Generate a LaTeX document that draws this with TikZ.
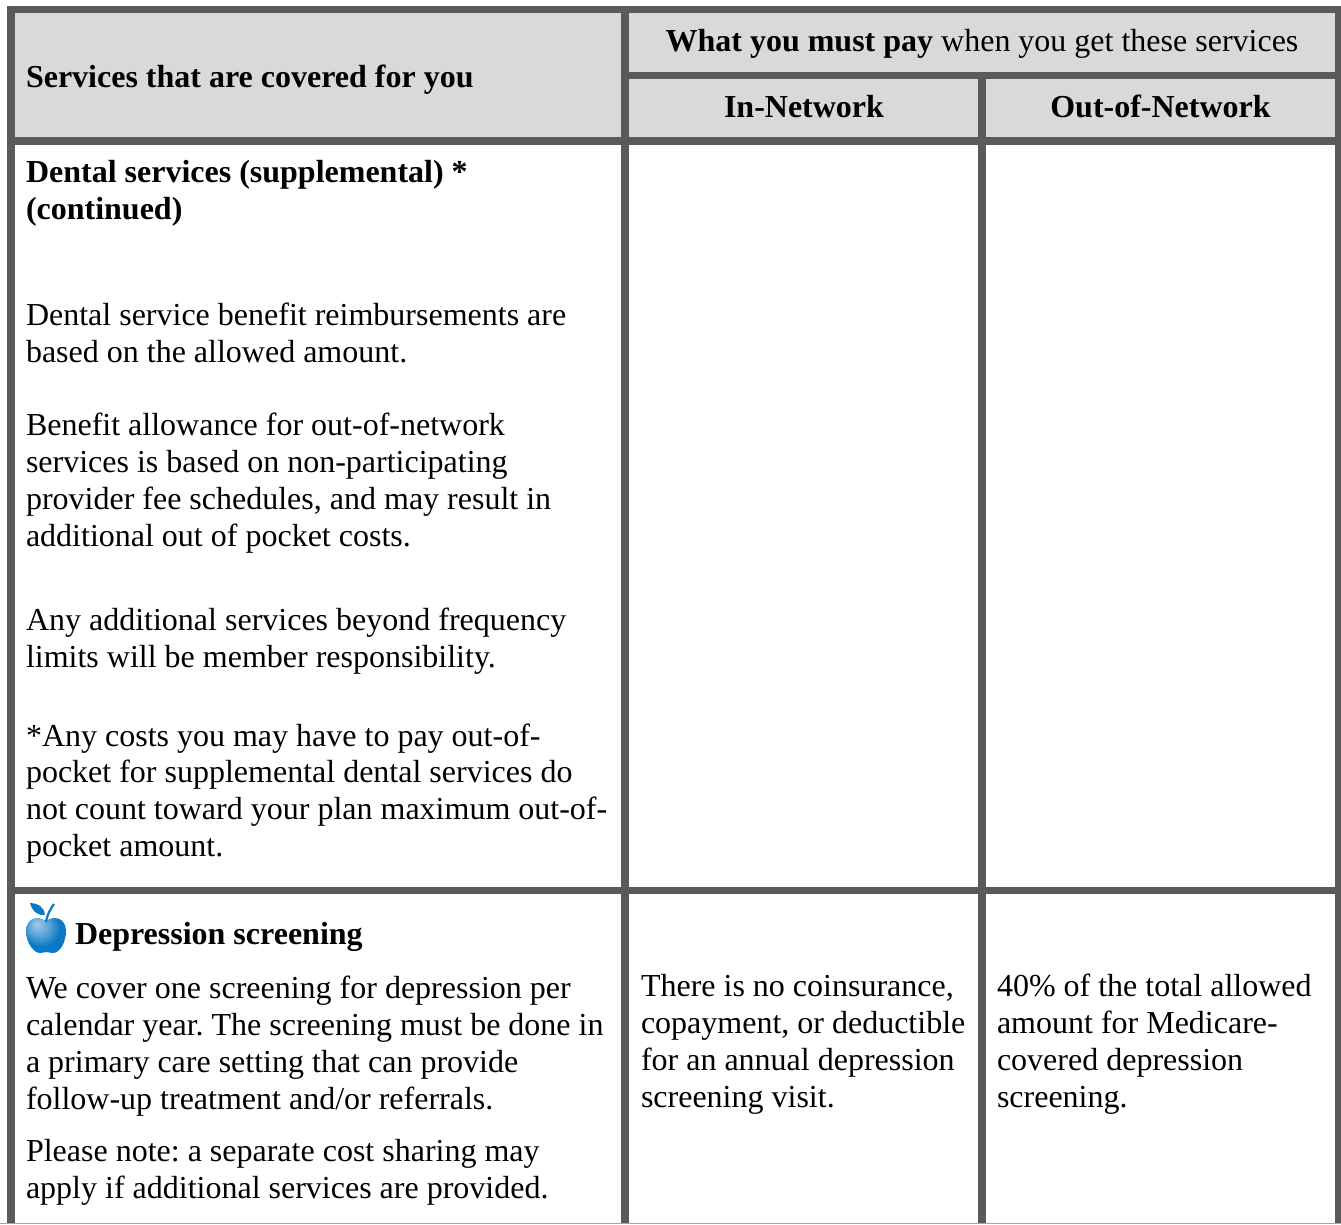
\documentclass[tikz,border=0pt]{standalone}
\usepackage{fontspec}
\setmainfont{Liberation Serif}
\frenchspacing
\definecolor{rulec}{HTML}{5A5A5A}
\definecolor{headc}{HTML}{D9D9D9}
\definecolor{edgec}{HTML}{A6A6A6}
\definecolor{appleb}{HTML}{0A78C4}
\pgfdeclareradialshading{appleshade}{\pgfpoint{-12bp}{14bp}}{%
  color(0bp)=(white!62!appleb); color(12bp)=(white!35!appleb); color(24bp)=(appleb); color(50bp)=(appleb)}
\tikzset{
  txt/.style={anchor=base west,inner sep=0pt,outer sep=0pt,font=\fontsize{32}{37}\selectfont},
  htxt/.style={txt,font=\fontsize{32}{37}\selectfont\bfseries},
  ctr/.style={anchor=base,inner sep=0pt,outer sep=0pt,font=\fontsize{32}{37}\selectfont},
  head/.style={fill=headc,draw=none},
  rulebar/.style={fill=rulec,draw=none}
}
\begin{document}
\begin{tikzpicture}[x=1pt,y=-1pt]
\useasboundingbox (0,0) rectangle (1341,1224);
\fill[white] (0,0) rectangle (1341,1224);
% header fills
\path[head] (14,13) rectangle (1335,137);
% rules
\path[rulebar] (6.5,6) rectangle (1341,13);
\path[rulebar] (7,6) rectangle (14.5,1223);
\path[rulebar] (1335,6) rectangle (1341,1223);
\path[rulebar] (621,6) rectangle (628.5,1223);
\path[rulebar] (978,72) rectangle (986,1223);
\path[rulebar] (621,71.5) rectangle (1341,79);
\path[rulebar] (7,137) rectangle (1341,144.5);
\path[rulebar] (7,887) rectangle (1341,894);
\path[fill=edgec] (0,1222.8) rectangle (1341,1224);
% header text
\node[htxt] (hServices) at (26,87) {Services that are covered for you};
\node[ctr] (hPay) at (982,51) {\textbf{What you must pay} when you get these services};
\node[ctr,font=\fontsize{32}{37}\selectfont\bfseries] (hIn) at (804,117) {In-Network};
\node[ctr,font=\fontsize{32}{37}\selectfont\bfseries] (hOut) at (1160.5,117) {Out-of-Network};
% dental
\node[htxt] (d1) at (26,182.5) {Dental services (supplemental) *};
\node[htxt] (d2) at (26,219.5) {(continued)};
\node[txt] (d3) at (26,325) {Dental service benefit reimbursements are};
\node[txt] (d4) at (26,362) {based on the allowed amount.};
\node[txt] (d5) at (26,435) {Benefit allowance for out-of-network};
\node[txt] (d6) at (26,472) {services is based on non-participating};
\node[txt] (d7) at (26,509) {provider fee schedules, and may result in};
\node[txt] (d8) at (26,546) {additional out of pocket costs.};
\node[txt] (d9) at (26,630) {Any additional services beyond frequency};
\node[txt] (d10) at (26,667) {limits will be member responsibility.};
\node[txt] (d11) at (26,746) {*Any costs you may have to pay out-of-};
\node[txt] (d12) at (26,782.5) {pocket for supplemental dental services do};
\node[txt] (d13) at (26,819) {not count toward your plan maximum out-of-};
\node[txt] (d14) at (26,856) {pocket amount.};
% apple
\path[shading=appleshade]
  (46,921) .. controls (38,915) and (26,918) .. (26,931)
  .. controls (26,943) and (34,953) .. (40,953)
  .. controls (43,953) and (44,952) .. (46,952)
  .. controls (48,952) and (50,953) .. (53,953)
  .. controls (60,953) and (66,942) .. (66,931)
  .. controls (66,918) and (54,915) .. (46,921) -- cycle;
\fill[appleb] (45,915) .. controls (38,916) and (32,911) .. (30,903)
  .. controls (37,903) and (44,906) .. (45,915) -- cycle;
\draw[appleb,line width=2.2pt] (46,922) .. controls (47,916) and (49,911) .. (54,904);
\node[htxt] (dep) at (75,944) {Depression screening};
\node[txt] (e1) at (26,998) {We cover one screening for depression per};
\node[txt] (e2) at (26,1035) {calendar year. The screening must be done in};
\node[txt] (e3) at (26,1072) {a primary care setting that can provide};
\node[txt] (e4) at (26,1109) {follow-up treatment and/or referrals.};
\node[txt] (e5) at (26,1161) {Please note: a separate cost sharing may};
\node[txt] (e6) at (26,1198) {apply if additional services are provided.};
% in network
\node[txt] (f1) at (641,996) {There is no coinsurance,};
\node[txt] (f2) at (641,1033) {copayment, or deductible};
\node[txt] (f3) at (641,1070) {for an annual depression};
\node[txt] (f4) at (641,1107) {screening visit.};
% out of network
\node[txt] (g1) at (997,996) {40\% of the total allowed};
\node[txt] (g2) at (997,1033) {amount for Medicare-};
\node[txt] (g3) at (997,1070) {covered depression};
\node[txt] (g4) at (997,1107) {screening.};
\end{tikzpicture}
\end{document}
